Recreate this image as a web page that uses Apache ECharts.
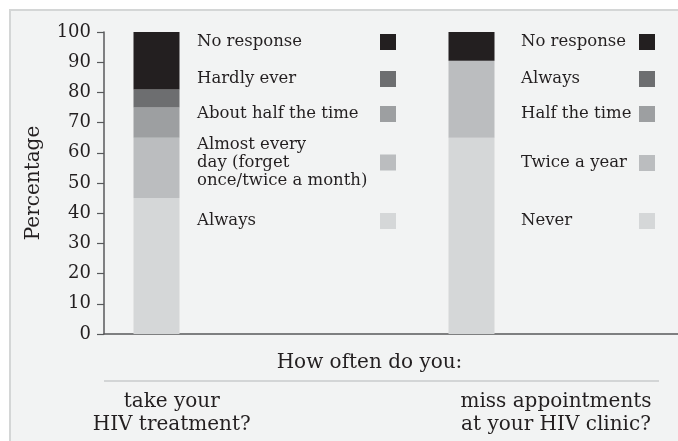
<!DOCTYPE html>
<html>
<head>
<meta charset="utf-8">
<script src="https://cdn.jsdelivr.net/npm/echarts@6/dist/echarts.min.js"></script>
<style>
html,body{margin:0;padding:0;background:#fff;}
#chart{width:678px;height:441px;}
</style>
</head>
<body>
<div id="chart"></div>
<script>
// ---- data ----
const categories = ['take your\nHIV treatment?', 'miss appointments\nat your HIV clinic?'];
const axisTitle = 'How often do you:';
const yTicks = [0, 10, 20, 30, 40, 50, 60, 70, 80, 90, 100];

const treatLabels = ['Always', 'Almost every\nday (forget\nonce/twice a month)', 'About half the time', 'Hardly ever', 'No response'];
const treatValues = [45, 20, 10, 6, 19];

const clinicLabels = ['Never', 'Twice a year', 'Half the time', 'Always', 'No response'];
const clinicValues = [65, 25.5, 0, 0, 9.5];

const shades = ['#d5d7d8', '#bbbdbf', '#9d9fa1', '#6d6e70', '#231f20'];

// ---- layout ----
const FONT = 'DejaVu Serif';
const TXT = '#231f20';
const slotCount = 6;            // axis divided in equal slots; the columns sit in slot 0 and 3
const barSlots = [0, 3];
const slotData = Array.from({length: slotCount}, (_, i) => 's' + i);

const series = [];
const legends = [];
const legendCenters = [221, 163, 114, 79, 42];

function addGroup(prefix, labels, values, catIdx, iconX, textW) {
  labels.forEach((lab, i) => {
    const name = prefix + i;
    const data = slotData.map(() => '-');
    data[barSlots[catIdx]] = values[i];
    series.push({
      type: 'bar', name: name, stack: 'all', data: data,
      barWidth: 46, itemStyle: {color: shades[i]},
      emphasis: {disabled: true}, silent: true
    });
    const lines = lab.split('\n');
    const lh = lines.length > 1 ? 18 : 17;
    const halfH = Math.max(8, lines.length * lh / 2);
    legends.push({
      data: [name], orient: 'vertical', padding: 0,
      left: iconX - 5 - textW, top: legendCenters[i] - halfH,
      align: 'right', icon: 'rect', itemWidth: 16, itemHeight: 16,
      selectedMode: false,
      formatter: () => lines.map(l => '{a|' + l + '}').join('\n'),
      textStyle: {rich: {a: {width: textW, align: 'left', fontSize: 16.5, lineHeight: lh, fontFamily: FONT, color: TXT}}}
    });
  });
}
addGroup('t', treatLabels, treatValues, 0, 380, 178);
addGroup('c', clinicLabels, clinicValues, 1, 639, 113);

const chart = echarts.init(document.getElementById('chart'), null, {renderer: 'canvas'});
chart.setOption({
  backgroundColor: '#ffffff',
  animation: false,
  grid: {left: 104, right: -56, top: 32, bottom: 107, containLabel: false, outerBoundsMode: 'none'},
  xAxis: {
    type: 'category', data: slotData,
    axisLine: {show: true, lineStyle: {color: '#58595b', width: 1.5}},
    axisTick: {show: false}, axisLabel: {show: false}, splitLine: {show: false}
  },
  yAxis: {
    type: 'value', min: yTicks[0], max: yTicks[yTicks.length - 1], interval: 10,
    name: 'Percentage', nameLocation: 'middle', nameGap: 60,
    nameTextStyle: {fontFamily: FONT, fontSize: 20, color: TXT},
    axisLine: {show: true, lineStyle: {color: '#58595b', width: 1.5}},
    axisTick: {show: true, length: 7, lineStyle: {color: '#58595b', width: 1.2}},
    axisLabel: {margin: 13, fontFamily: FONT, fontSize: 18, color: TXT},
    splitLine: {show: false}
  },
  legend: legends,
  series: series,
  graphic: {elements: [
    {type: 'rect', z: -100, silent: true, shape: {x: 10, y: 10, width: 720, height: 480},
     style: {fill: '#f2f3f3', stroke: '#d4d6d6', lineWidth: 2}},
    {type: 'text', silent: true, x: 369.5, y: 362.7,
     style: {text: axisTitle, fontFamily: FONT, fontSize: 20, fill: TXT, align: 'center', verticalAlign: 'middle'}},
    {type: 'line', silent: true, shape: {x1: 104, y1: 381, x2: 659, y2: 381},
     style: {stroke: '#c9cbcc', lineWidth: 1.5}},
    {type: 'text', silent: true, x: 171.7, y: 413.5,
     style: {text: categories[0], fontFamily: FONT, fontSize: 20, lineHeight: 23.5, fill: TXT, align: 'center', verticalAlign: 'middle'}},
    {type: 'text', silent: true, x: 556, y: 413.5,
     style: {text: categories[1], fontFamily: FONT, fontSize: 20, lineHeight: 23.5, fill: TXT, align: 'center', verticalAlign: 'middle'}}
  ]}
});
</script>
</body>
</html>
